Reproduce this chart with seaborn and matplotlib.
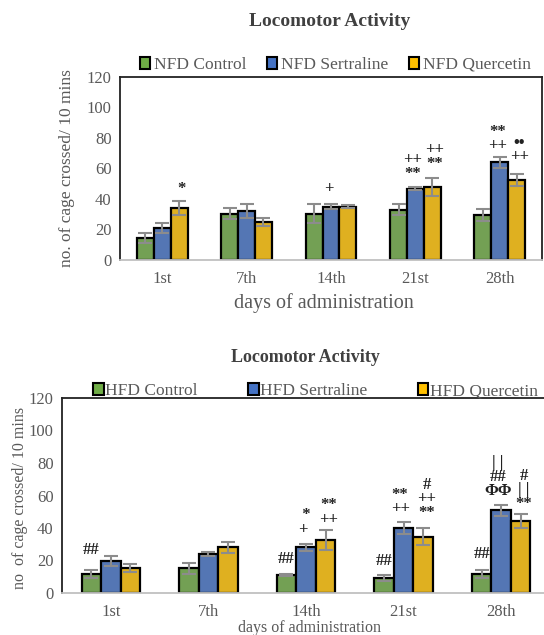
import matplotlib
matplotlib.use("Agg")
import matplotlib.pyplot as plt
from matplotlib.patches import Patch
import seaborn as sns
import pandas as pd

days = ["1st", "7th", "14th", "21st", "28th"]

nfd_groups = ["NFD Control", "NFD Sertraline", "NFD Quercetin"]
nfd_control = [14.5, 30.4, 30.4, 33.0, 29.3]
nfd_sertraline = [21.0, 32.0, 35.0, 46.7, 64.0]
nfd_quercetin = [34.0, 25.0, 35.0, 47.8, 52.4]
nfd_control_err = [3.5, 3.5, 6.0, 3.5, 4.0]
nfd_sertraline_err = [3.5, 4.5, 1.5, 1.0, 3.5]
nfd_quercetin_err = [4.5, 2.5, 1.0, 6.0, 3.7]

hfd_groups = ["HFD Control", "HFD Sertraline", "HFD Quercetin"]
hfd_control = [11.9, 15.2, 10.9, 9.0, 11.9]
hfd_sertraline = [19.5, 24.0, 28.1, 40.0, 50.9]
hfd_quercetin = [15.4, 28.1, 32.6, 34.7, 44.5]
hfd_control_err = [2.5, 3.3, 0.6, 1.9, 2.5]
hfd_sertraline_err = [3.0, 1.0, 2.3, 3.5, 3.3]
hfd_quercetin_err = [2.2, 3.3, 6.4, 5.3, 4.3]

# significance marks: (group index, day index, block centre in data units, text)
nfd_marks = [
    (2, 0, 46.5, "*"),
    (1, 2, 46.5, "+"),
    (1, 3, 61.0, "++\n**"),
    (2, 3, 67.5, "++\n**"),
    (1, 4, 79.5, "**\n++"),
    (2, 4, 72.0, "••\n++"),
]
hfd_marks = [
    (0, 0, 26.7, "##"),
    (0, 2, 20.9, "##"),
    (1, 2, 43.4, "  *\n+"),
    (2, 2, 49.5, "**\n++"),
    (0, 3, 19.9, "##"),
    (1, 3, 56.0, "**\n++"),
    (2, 3, 58.0, "#\n++\n**"),
    (0, 4, 24.2, "##"),
    (1, 4, 71.5, "| |\n##\nΦΦ"),
    (2, 4, 63.5, "#\n| |\n**"),
]

colors = ["#70AD47", "#4472C4", "#FFC000"]
TXT = "#595959"

sns.set_style("white")
plt.rcParams["font.family"] = ["Liberation Serif", "DejaVu Serif"]


def make_df(groups, vals):
    rows = []
    for g, v in zip(groups, vals):
        for d, x in zip(days, v):
            rows.append({"day": d, "group": g, "value": x})
    return pd.DataFrame(rows)


fig = plt.figure(figsize=(5.44, 6.35), dpi=100)
ax1 = fig.add_axes([120 / 544, 1 - 260 / 635, 422 / 544, 183 / 635])
ax2 = fig.add_axes([62 / 544, 1 - 593 / 635, 488 / 544, 195 / 635])


def draw(ax, groups, vals, errs, marks, tick_fs, mark_fs, ls, xpad, spread):
    df = make_df(groups, vals)
    sns.barplot(data=df, x="day", y="value", hue="group", hue_order=groups,
                order=days, palette=colors, width=0.6, gap=0, errorbar=None,
                edgecolor="black", linewidth=1.6, legend=False, ax=ax)
    for cont, err in zip(ax.containers, errs):
        xs = [b.get_x() + b.get_width() / 2 for b in cont]
        hs = [b.get_height() for b in cont]
        ax.errorbar(xs, hs, yerr=err, fmt="none", ecolor="#8c8c8c",
                    elinewidth=1.5, capsize=5, capthick=1.5, zorder=5)
    shift = {0: 0.0, 1: -spread, 2: spread}
    for gi, di, y, t in marks:
        b = ax.containers[gi][di]
        x = b.get_x() + b.get_width() / 2 + shift[gi]
        ax.text(x, y, t, ha="center", va="center", fontsize=mark_fs,
                fontweight="bold", color="#222222", linespacing=ls,
                multialignment="center")
    ax.set_ylim(0, 120)
    ax.set_yticks(range(0, 121, 20))
    ax.set_xlim(-0.5, 4.5)
    ax.set_xlabel("")
    ax.set_ylabel("")
    ax.tick_params(axis="y", length=0, labelsize=tick_fs, colors=TXT, pad=6)
    ax.tick_params(axis="x", length=0, labelsize=tick_fs, colors=TXT, pad=xpad)
    for s in ["left", "top", "right"]:
        ax.spines[s].set_color("#222222")
        ax.spines[s].set_linewidth(1.3)
    ax.spines["bottom"].set_color("#c0c0c0")
    ax.spines["bottom"].set_linewidth(1.3)


draw(ax1, nfd_groups, [nfd_control, nfd_sertraline, nfd_quercetin],
     [nfd_control_err, nfd_sertraline_err, nfd_quercetin_err], nfd_marks,
     12, 12, 0.8, 8, 0.03)
draw(ax2, hfd_groups, [hfd_control, hfd_sertraline, hfd_quercetin],
     [hfd_control_err, hfd_sertraline_err, hfd_quercetin_err], hfd_marks,
     12, 12, 0.85, 8, 0.035)

h1 = [Patch(facecolor=c, edgecolor="black", linewidth=1.5, label=g)
      for c, g in zip(colors, nfd_groups)]
ax1.legend(handles=h1, loc="center", bbox_to_anchor=(0.51, 1.066), ncol=3,
           frameon=False, handlelength=0.6, handleheight=0.7, handletextpad=0.2,
           columnspacing=1.2, fontsize=12.5, labelcolor=TXT, borderaxespad=0)
h2 = [Patch(facecolor=c, edgecolor="black", linewidth=1.5, label=g)
      for c, g in zip(colors, hfd_groups)]
ax2.legend(handles=h2, loc="center", bbox_to_anchor=(0.52, 1.035), ncol=3,
           frameon=False, handlelength=0.6, handleheight=0.7, handletextpad=0.1,
           columnspacing=2.9, fontsize=12.5, labelcolor=TXT, borderaxespad=0)

fig.text(330 / 544, 1 - 22 / 635, "Locomotor Activity", ha="center", va="center",
         fontsize=14, fontweight="bold", color="#404040")
fig.text(305 / 544, 1 - 358 / 635, "Locomotor Activity", ha="center", va="center",
         fontsize=13, fontweight="bold", color="#404040")
fig.text(67 / 544, 1 - 168 / 635, "no. of cage crossed/ 10 mins", rotation=90,
         ha="center", va="center", fontsize=12.5, color=TXT)
fig.text(20 / 544, 1 - 498 / 635, "no  of cage crossed/ 10 mins", rotation=90,
         ha="center", va="center", fontsize=11.5, color=TXT)
fig.text(324 / 544, 1 - 303 / 635, "days of administration", ha="center",
         va="center", fontsize=14.5, color=TXT)
fig.text(309 / 544, 1 - 628 / 635, "days of administration", ha="center",
         va="center", fontsize=11.5, color=TXT)

fig.savefig("out.png", dpi=100)
